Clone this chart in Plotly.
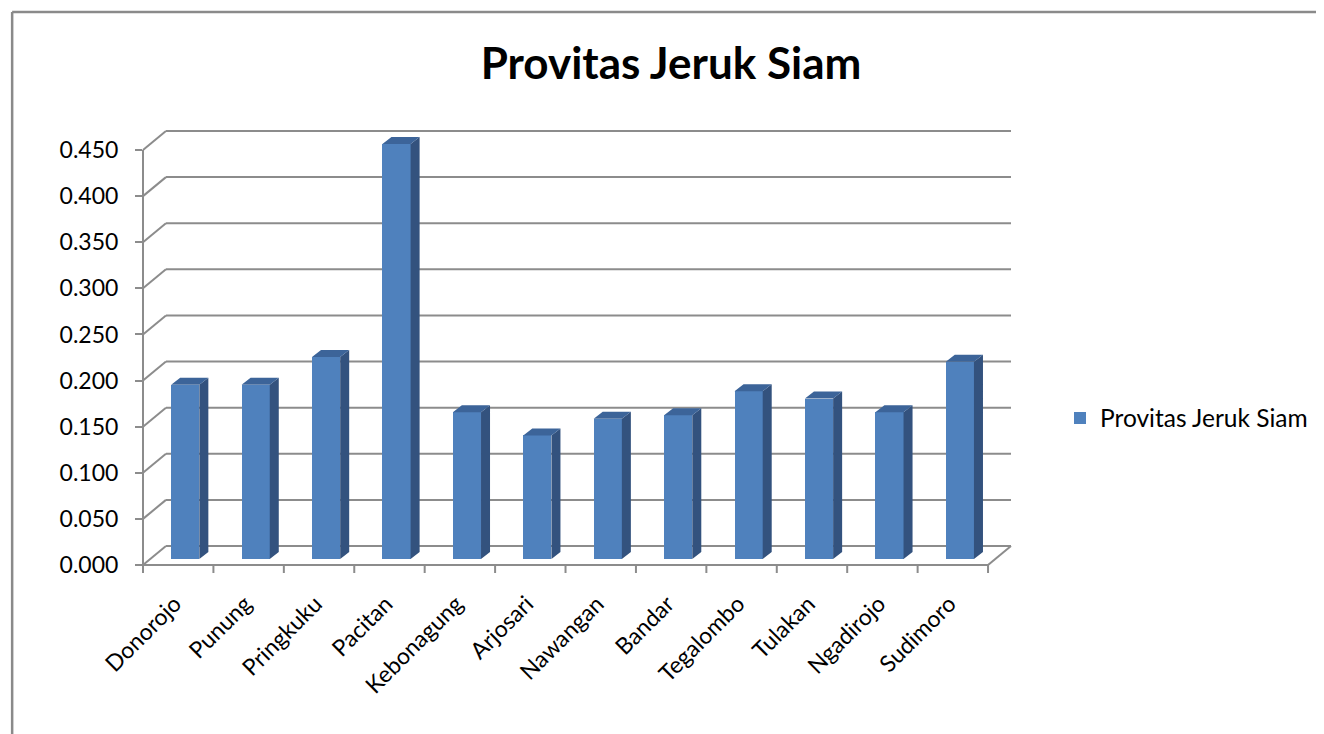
import plotly.graph_objects as go

categories = ["Donorojo", "Punung", "Pringkuku", "Pacitan", "Kebonagung", "Arjosari",
              "Nawangan", "Bandar", "Tegalombo", "Tulakan", "Ngadirojo", "Sudimoro"]
values = [0.189, 0.189, 0.219, 0.450, 0.159, 0.134, 0.152, 0.156, 0.182, 0.174, 0.159, 0.214]
y_ticks = [0.0, 0.05, 0.10, 0.15, 0.20, 0.25, 0.30, 0.35, 0.40, 0.45]
y_tick_text = ["%.3f" % v for v in y_ticks]
series_name = "Provitas Jeruk Siam"
title_text = "Provitas Jeruk Siam"

OFF = 8  # page body margin
W, H = 1324 - OFF, 734 - OFF
ML, MT = 143 - OFF, 131 - OFF
MR = W - (1012 - OFF)
MB = H - (565 - OFF)
PW, PH = W - ML - MR, H - MT - MB

n = len(categories)
DX, DY = 0.326, 0.0206       # depth of the 3D box (category units, value units)
BX, BY = 0.10, 0.0065        # bar offset into depth
BW = 0.40                    # bar width
SX, SY = 0.128, 0.0076       # bar depth

XR = [-0.5, n - 0.5 + DX]
YR = [0.0, max(y_ticks) + DY]

FRONT = "#4F81BD"
SIDE = "#33527E"
TOP = "#3C6499"
GRID = "#8C8C8C"
FONT = "Lato"


def px(x):
    return (x - XR[0]) / (XR[1] - XR[0])


def py(y):
    return (y - YR[0]) / (YR[1] - YR[0])


def line(x0, y0, x1, y1, color=GRID, width=2):
    return dict(type="line", xref="paper", yref="paper",
                x0=x0, y0=y0, x1=x1, y1=y1,
                line=dict(color=color, width=width), layer="below")


fig = go.Figure()

xpos = [i + BX for i in range(n)]
fig.add_trace(go.Bar(
    x=xpos, y=values, base=BY, width=BW, name=series_name,
    marker=dict(color=FRONT, line=dict(width=0)), showlegend=True,
))

sx, sy = [], []
tx, ty = [], []
for xc, v in zip(xpos, values):
    r = xc + BW / 2
    l = xc - BW / 2
    top = v + BY
    sx += [r, r + SX, r + SX, r, r, None]
    sy += [BY, BY + SY, top + SY, top, BY, None]
    tx += [l, l + SX, r + SX, r, l, None]
    ty += [top, top + SY, top + SY, top, top, None]

fig.add_trace(go.Scatter(x=sx, y=sy, mode="lines", fill="toself", fillcolor=SIDE,
                         line=dict(width=0, color=SIDE), showlegend=False, hoverinfo="skip"))
fig.add_trace(go.Scatter(x=tx, y=ty, mode="lines", fill="toself", fillcolor=TOP,
                         line=dict(width=0, color=TOP), showlegend=False, hoverinfo="skip"))

shapes = []
x_left, x_right = -0.5, n - 0.5
for v in y_ticks:
    shapes.append(line(px(x_left + DX), py(v + DY), px(x_right + DX), py(v + DY)))
    shapes.append(line(px(x_left), py(v), px(x_left + DX), py(v + DY)))
shapes.append(line(px(x_left), py(0), px(x_left), py(max(y_ticks))))
shapes.append(line(px(x_left), py(0), px(x_right), py(0)))
shapes.append(line(px(x_right), py(0), px(x_right + DX), py(DY)))
for k in range(n + 1):
    xb = k - 0.5
    shapes.append(line(px(xb), py(0), px(xb), -8 / PH))

# outer chart frame (top and left edges)
fx = (12 - OFF - ML) / PW
fy = (H - MB - (12 - OFF)) / PH
shapes.append(dict(type="line", xref="paper", yref="paper", x0=fx, y0=fy, x1=(W - ML) / PW, y1=fy,
                   line=dict(color="#8A8A8A", width=2.5)))
shapes.append(dict(type="line", xref="paper", yref="paper", x0=fx, y0=fy, x1=fx, y1=-MB / PH,
                   line=dict(color="#8A8A8A", width=2.5)))

fig.update_layout(
    width=W, height=H,
    margin=dict(l=ML, r=MR, t=MT, b=MB, pad=0),
    paper_bgcolor="white", plot_bgcolor="rgba(0,0,0,0)",
    font=dict(family=FONT, color="black", size=23),
    title=dict(text="<b>%s</b>" % title_text, xref="container", yref="container",
               x=(671 - OFF) / W, y=1 - (64 - OFF) / H, xanchor="center", yanchor="middle",
               font=dict(family=FONT, size=44, color="black")),
    shapes=shapes,
    showlegend=True,
    legend=dict(x=(1060 - OFF - ML) / PW, y=(565 - 418) / PH, xanchor="left", yanchor="middle",
                font=dict(family=FONT, size=24.5, color="black"), bgcolor="rgba(0,0,0,0)"),
    bargap=0,
)

fig.update_xaxes(range=XR, tickmode="array", tickvals=[i - 0.05 for i in range(n)],
                 ticktext=categories, tickangle=-45, ticks="", showgrid=False,
                 zeroline=False, showline=False, tickfont=dict(family=FONT, size=23),
                 ticklabelstandoff=20, fixedrange=True)
fig.update_yaxes(range=YR, tickmode="array", tickvals=y_ticks, ticktext=y_tick_text,
                 ticks="outside", ticklen=7, tickwidth=2, tickcolor=GRID,
                 showgrid=False, zeroline=False, showline=False,
                 tickfont=dict(family=FONT, size=23), ticklabelstandoff=12, fixedrange=True)

fig.write_html("out.html")
